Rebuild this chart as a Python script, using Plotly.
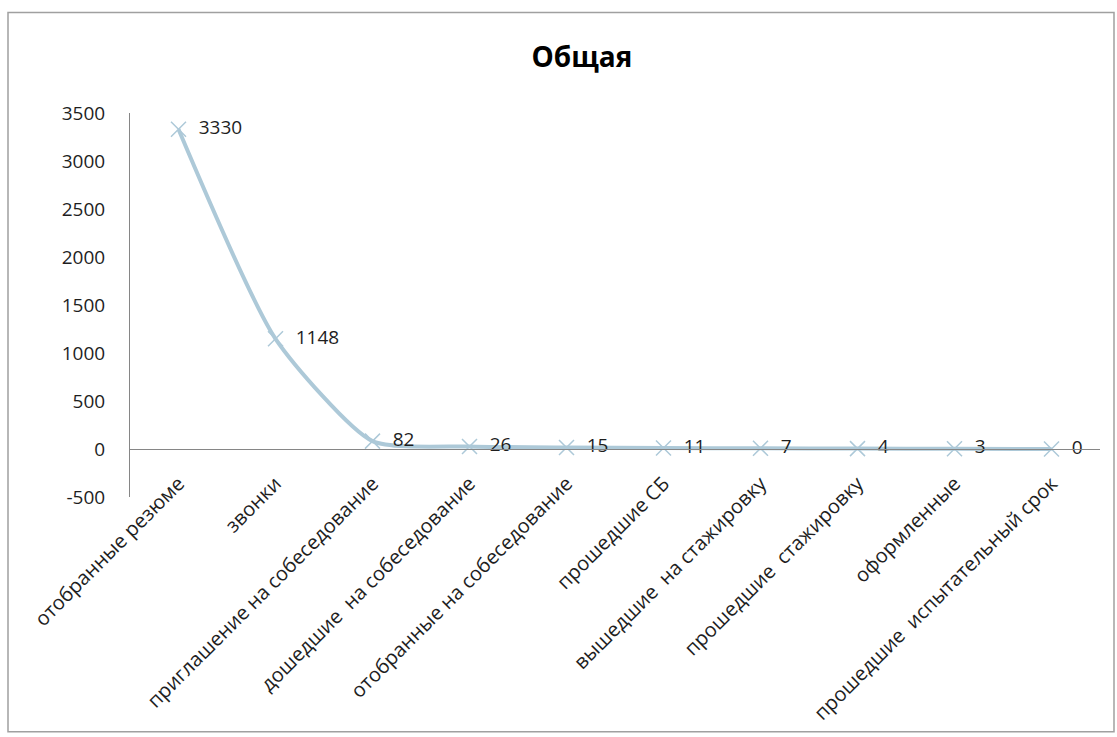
import plotly.graph_objects as go

categories = [
    "отобранные резюме",
    "звонки",
    "приглашение на собеседование",
    "дошедшие  на собеседование",
    "отобранные на собеседование",
    "прошедшие СБ",
    "вышедшие  на стажировку",
    "прошедшие  стажировку",
    "оформленные",
    "прошедшие  испытательный срок",
]
values = [3330, 1148, 82, 26, 15, 11, 7, 4, 3, 0]
y_ticks = [-500, 0, 500, 1000, 1500, 2000, 2500, 3000, 3500]

FONT = "Open Sans"
LINE = "#adc9d8"
TXT = "#1e1e1e"

fig = go.Figure()
fig.add_trace(go.Scatter(
    x=categories,
    y=values,
    mode="lines+markers+text",
    line=dict(color=LINE, width=4, shape="spline", smoothing=0.6),
    marker=dict(symbol="x-thin", size=15, line=dict(color=LINE, width=1.5), color=LINE),
    text=["\u00a0\u00a0" + str(v) for v in values],
    textposition="middle right",
    textfont=dict(family=FONT, size=19, color=TXT),
    cliponaxis=False,
    hoverinfo="skip",
))

fig.update_layout(
    width=1117, height=737,
    margin=dict(l=130, r=17, t=113, b=238),
    paper_bgcolor="white", plot_bgcolor="white",
    showlegend=False,
    title=dict(text="<b>Общая</b>", x=0.521, xanchor="center", y=0.922, yanchor="middle",
               font=dict(family=FONT, size=28, color="#000000")),
    font=dict(family=FONT, size=19, color=TXT),
    xaxis=dict(
        type="category",
        range=[-0.5, 9.5],
        anchor="free",
        position=0.125,
        showline=True, linecolor="#868686", linewidth=1,
        showgrid=False, zeroline=False,
        ticks="", tickangle=-45,
        ticklabelstandoff=14,
        tickfont=dict(family=FONT, size=20, color=TXT),
    ),
    yaxis=dict(
        range=[-500, 3500],
        tickvals=y_ticks,
        ticktext=[str(v) for v in y_ticks],
        showline=True, linecolor="#868686", linewidth=1,
        showgrid=False, zeroline=False,
        ticks="", ticklen=0,
        ticklabelstandoff=20,
        tickfont=dict(family=FONT, size=19, color=TXT),
    ),
    shapes=[dict(type="rect", xref="paper", yref="paper",
                 x0=(8 - 130) / 970, x1=(1114 - 130) / 970,
                 y0=(499 - 735) / 386, y1=(499 - 12) / 386,
                 line=dict(color="#a0a0a0", width=1.5), layer="below")],
)

fig.write_html("out.html")
